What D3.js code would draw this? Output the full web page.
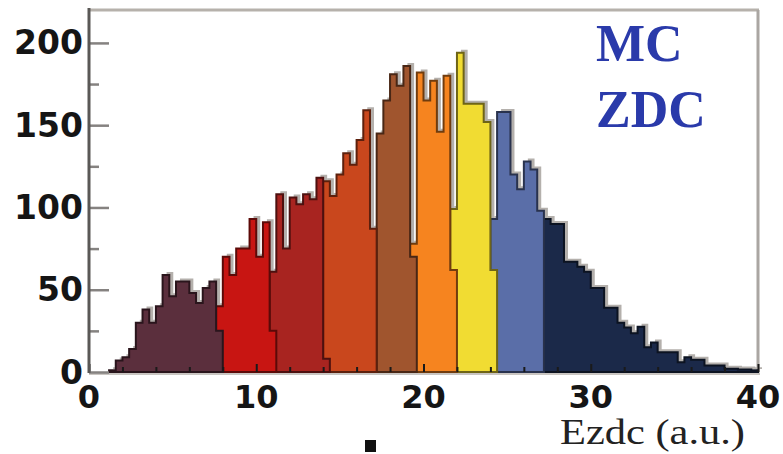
<!DOCTYPE html>
<html>
<head>
<meta charset="utf-8">
<script src="https://cdn.jsdelivr.net/npm/d3@7"></script>
<style>
  html, body { margin: 0; padding: 0; background: #fff; }
  svg { display: block; }
</style>
</head>
<body>
<svg id="chart" width="783" height="454"></svg>
<script>
// Ezdc histogram, 100 bins of 0.4 a.u. over 0-40, split into centrality classes.
const binWidth = 0.4;

// Each class: first bin index and counts per bin (edge bins are shared with neighbours).
const classStartBin = [3, 19, 27, 35, 43, 48, 54, 60, 68];
const class1Counts = [1, 7, 9, 14, 30, 38, 30, 40, 59, 46, 55, 55, 48, 42, 51, 55, 25];
const class2Counts = [40, 70, 59, 75, 75, 93, 70, 91, 25];
const class3Counts = [61, 108, 75, 106, 102, 108, 105, 118, 8];
const class4Counts = [116, 107, 120, 133, 126, 141, 159, 87];
const class5Counts = [145, 165, 181, 174, 186, 70];
const class6Counts = [78, 182, 165, 177, 146, 180, 62];
const class7Counts = [99, 194, 163, 163, 163, 152, 62];
const class8Counts = [93, 158, 158, 120, 111, 128, 123, 98];
const class9Counts = [93, 90, 90, 67, 67, 64, 61, 51, 51, 39, 39, 30, 27, 23.5, 27.5, 15,
                      18, 12, 12, 12, 6, 9, 7.5, 7.5, 4, 4, 4, 2, 2, 1.5, 1.5, 1];
const classColors = ["#5b2f3d", "#c81512", "#a82420", "#c9471d", "#a0552e",
                     "#f6841f", "#f1dc32", "#5a6ea8", "#1b2949"];

const yMajorTicks = [0, 50, 100, 150, 200];
const yMinorTicks = [25, 75, 125, 175];
const xMajorTicks = [0, 10, 20, 30, 40];
const xMinorTicks = [2, 4, 6, 8, 12, 14, 16, 18, 22, 24, 26, 28, 32, 34, 36, 38];

const classCounts = [class1Counts, class2Counts, class3Counts, class4Counts, class5Counts,
                     class6Counts, class7Counts, class8Counts, class9Counts];

const svg = d3.select("#chart");
const x = d3.scaleLinear().domain([0, 40]).range([89, 758]);
const y = d3.scaleLinear().domain([0, 220]).range([372, 10]);

const classes = classCounts.map((counts, k) => {
  const start = classStartBin[k];
  const pts = counts.map((c, i) => ({ e: (start + i) * binWidth, c }));
  pts.push({ e: (start + counts.length) * binWidth, c: counts[counts.length - 1] });
  return { pts, color: classColors[k] };
});

const area = d3.area()
  .x(d => x(d.e))
  .y0(y(0))
  .y1(d => y(d.c))
  .curve(d3.curveStepAfter);

// frame
const frame = svg.append("g");
frame.append("line").attr("x1", 89).attr("x2", 759).attr("y1", 10).attr("y2", 10)
  .attr("stroke", "#b6b1ab").attr("stroke-width", 3);
frame.append("line").attr("x1", 758).attr("x2", 758).attr("y1", 10).attr("y2", 373)
  .attr("stroke", "#aaa6a2").attr("stroke-width", 3);
frame.append("line").attr("x1", 89).attr("x2", 760).attr("y1", 374).attr("y2", 374)
  .attr("stroke", "#c9c5c1").attr("stroke-width", 2);

// print shadow behind every class
svg.append("g").selectAll("path.shadow").data(classes).join("path")
  .attr("class", "shadow")
  .attr("d", d => area(d.pts))
  .attr("transform", "translate(4,-3)")
  .attr("fill", "#b4b0ac");

// class histograms, right to left so the left class sits on top at shared bins
svg.append("g").selectAll("path.cls").data(classes.slice().reverse()).join("path")
  .attr("class", "cls")
  .attr("d", d => area(d.pts))
  .attr("fill", d => d.color)
  .attr("stroke", d => d3.color(d.color).darker(2.2))
  .attr("stroke-width", 2)
  .attr("stroke-linejoin", "miter");

// x ticks pointing into the plot
const xt = svg.append("g").attr("transform", `translate(0,${y(0)})`);
xt.call(d3.axisTop(x).tickValues(xMinorTicks).tickSize(5).tickFormat(""));
xt.call(g => g.select(".domain").remove());
const xt2 = svg.append("g").attr("transform", `translate(0,${y(0)})`);
xt2.call(d3.axisTop(x).tickValues(xMajorTicks).tickSize(8).tickFormat(""));
xt2.call(g => g.select(".domain").remove());
svg.selectAll(".tick line").attr("stroke", "#1a1a1a").attr("stroke-width", 2);

// y axis: ticks inside the frame
const yt = svg.append("g").attr("transform", `translate(89,0)`);
yt.call(d3.axisRight(y).tickValues(yMajorTicks).tickSize(20).tickFormat(""));
yt.call(g => g.select(".domain").remove());
yt.selectAll(".tick line").attr("stroke", "#858280").attr("stroke-width", 2.5);
const ym = svg.append("g").attr("transform", `translate(89,0)`);
ym.call(d3.axisRight(y).tickValues(yMinorTicks).tickSize(10).tickFormat(""));
ym.call(g => g.select(".domain").remove());
ym.selectAll(".tick line").attr("stroke", "#858280").attr("stroke-width", 2.5);

svg.append("line").attr("x1", 89).attr("x2", 89).attr("y1", 8).attr("y2", 373)
  .attr("stroke", "#5a5856").attr("stroke-width", 3);

// tick labels
const labelFont = "'DejaVu Sans', sans-serif";
svg.append("g").selectAll("text").data(yMajorTicks).join("text")
  .attr("x", 83)
  .attr("y", d => y(d) + 11.5)
  .attr("text-anchor", "end")
  .attr("font-family", labelFont)
  .attr("font-weight", "bold")
  .attr("font-size", 33)
  .attr("fill", "#151515")
  .text(d => d);

svg.append("g").selectAll("text").data(xMajorTicks).join("text")
  .attr("x", d => x(d))
  .attr("y", 408)
  .attr("text-anchor", "middle")
  .attr("font-family", labelFont)
  .attr("font-weight", "bold")
  .attr("font-size", 32)
  .attr("fill", "#151515")
  .text(d => d);

// axis title
svg.append("text")
  .attr("x", 560).attr("y", 444)
  .attr("font-family", "'Liberation Serif', serif")
  .attr("font-size", 35)
  .attr("fill", "#222")
  .attr("textLength", 185)
  .attr("lengthAdjust", "spacingAndGlyphs")
  .text("Ezdc (a.u.)");

// legend-style tag
const tag = svg.append("g")
  .attr("font-family", "'Liberation Serif', serif")
  .attr("font-weight", "bold")
  .attr("font-size", 52)
  .attr("fill", "#2a3aaa");
tag.append("text").attr("x", 596).attr("y", 61).text("MC");
tag.append("text").attr("x", 596).attr("y", 127).text("ZDC");

// small marker below the axis
svg.append("rect").attr("x", 365).attr("y", 440).attr("width", 11).attr("height", 12)
  .attr("fill", "#111");
</script>
</body>
</html>
